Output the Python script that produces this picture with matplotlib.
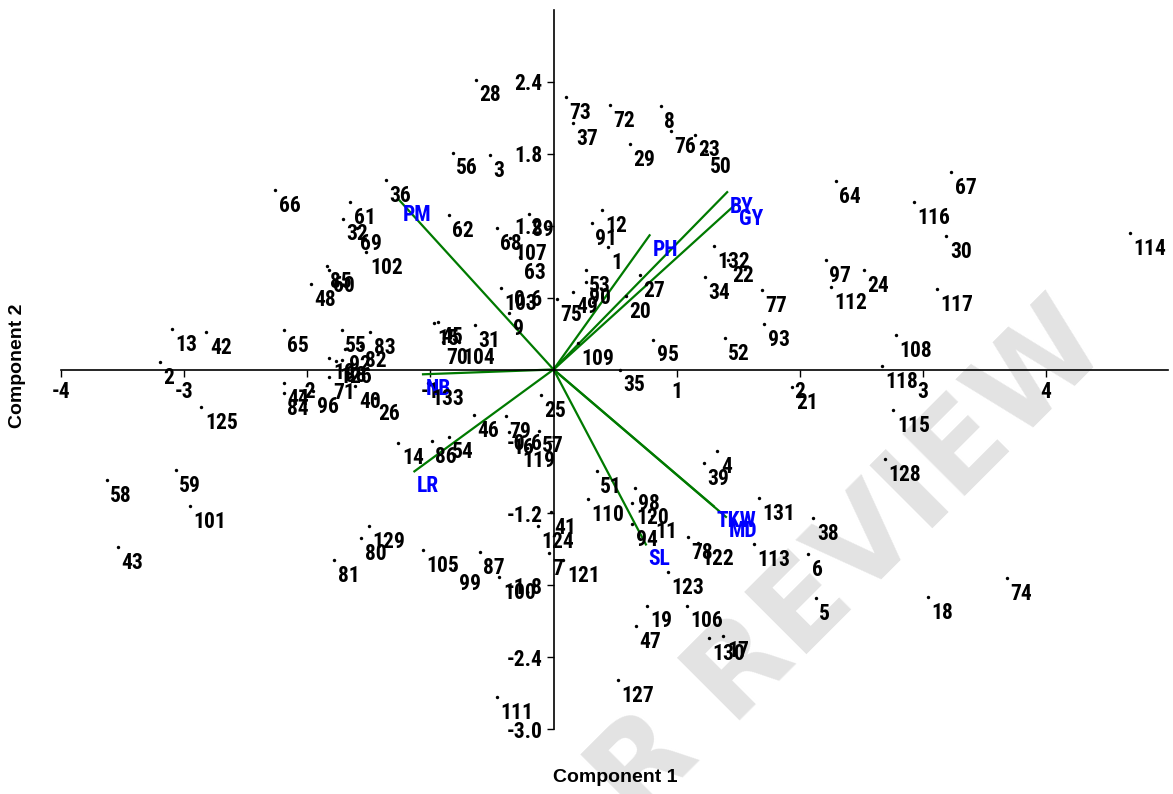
import matplotlib
matplotlib.use("Agg")
import matplotlib.pyplot as plt
from matplotlib import font_manager

# genotype scores (component 1, component 2)
labels = ["1", "2", "3", "4", "5", "6", "7", "8", "9", "11", "12", "13", "14", "15", "16",
          "17", "18", "19", "20", "21", "22", "23", "24", "25", "26", "27", "28", "29", "30",
          "31", "32", "133", "34", "35", "36", "37", "38", "39", "40", "41", "42", "43", "44",
          "45", "46", "47", "48", "49", "50", "51", "52", "53", "54", "55", "56", "57", "58",
          "59", "60", "61", "62", "63", "64", "65", "66", "67", "68", "69", "70", "71", "72",
          "73", "74", "75", "76", "77", "78", "79", "80", "81", "83", "84", "85", "86", "87",
          "90", "91", "93", "94", "95", "96", "97", "98", "99", "100", "101", "102", "103",
          "104", "105", "106", "107", "108", "109", "110", "111", "112", "113", "114", "115",
          "116", "117", "118", "119", "120", "121", "122", "123", "124", "125", "127", "128",
          "129", "130", "131", "132", "89", "10", "126", "88", "92", "82"]
pc1 = [0.44, -3.20, -0.52, 1.33, 2.13, 2.07, -0.04, 0.87, -0.36, 0.80, 0.39, -3.10, -1.26,
       -0.97, -0.36, 1.38, 3.04, 0.76, 0.59, 1.94, 1.42, 1.15, 2.52, -0.10, -1.45, 0.70,
       -0.63, 0.62, 3.19, -0.64, -1.71, -1.02, 1.23, 0.54, -1.36, 0.16, 2.11, 1.22, -1.61,
       -0.02, -2.82, -3.54, -2.19, -0.94, -0.65, 0.67, -1.97, 0.16, 1.24, 0.35, 1.39, 0.26,
       -0.85, -1.72, -0.82, -0.12, -3.63, -3.07, -1.82, -1.65, -0.85, -0.27, 2.29, -2.19,
       -2.26, 3.23, -0.46, -1.60, -0.90, -1.82, 0.46, 0.10, 3.68, 0.03, 0.95, 1.69, 1.09,
       -0.39, -1.56, -1.78, -1.49, -2.19, -1.84, -0.99, -0.60, 0.26, 0.31, 1.71, 0.64, 0.81,
       -1.95, 2.21, 0.66, -0.80, -0.44, -2.95, -1.52, -0.43, -0.77, -1.06, 1.08, -0.35, 2.78,
       0.20, 0.28, -0.46, 2.25, 1.63, 4.68, 2.76, 2.93, 3.11, 2.67, -0.28, 0.64, 0.08, 1.17,
       0.93, -0.13, -2.86, 0.52, 2.69, -1.50, 1.26, 1.67, 1.30, -0.20, -1.82, -1.77, -1.72,
       -1.69, -1.56]
pc2 = [1.02, 0.06, 1.79, -0.68, -1.91, -1.54, -1.53, 2.20, 0.47, -1.22, 1.33, 0.34, -0.61,
       0.39, -0.52, -2.22, -1.90, -1.97, 0.61, -0.15, 0.91, 1.96, 0.83, -0.21, -0.24, 0.79,
       2.42, 1.88, 1.11, 0.37, 1.26, -0.11, 0.77, 0.00, 1.58, 2.06, -1.24, -0.78, -0.14,
       -1.19, 0.31, -1.48, -0.11, 0.40, -0.38, -2.14, 0.71, 0.65, 1.82, -0.85, 0.26, 0.83,
       -0.56, 0.33, 1.81, -0.51, -0.92, -0.84, 0.83, 1.40, 1.29, 0.94, 1.57, 0.33, 1.50,
       1.65, 1.18, 1.18, 0.23, -0.06, 2.21, 2.27, -1.74, 0.59, 1.99, 0.66, -1.40, -0.39,
       -1.41, -1.59, 0.31, -0.20, 0.86, -0.60, -1.52, 0.73, 1.22, 0.38, -1.29, 0.25, -0.18,
       0.91, -0.99, -1.66, -1.73, -1.14, 0.98, 0.68, 0.23, -1.51, -1.97, 1.10, 0.29, 0.22,
       -1.08, -2.73, 0.69, -1.46, 1.14, -0.34, 1.40, 0.67, 0.03, -0.63, -1.11, -1.59, -1.45,
       -1.69, -1.31, -0.31, -2.59, -0.75, -1.31, -2.24, -1.07, 1.03, 1.30, 0.10, 0.07, 0.08,
       0.17, 0.20]

# variable loadings
var_names = ["PM", "BY", "GY", "PH", "NB", "LR", "TKW", "MD", "SL"]
var_pc1 = [-1.25, 1.41, 1.48, 0.78, -1.06, -1.13, 1.30, 1.40, 0.75]
var_pc2 = [1.41, 1.48, 1.38, 1.12, -0.04, -0.85, -1.14, -1.23, -1.46]

xticks = [-4, -3, -2, -1, 1, 2, 3, 4]
yticks = [-3.0, -2.4, -1.8, -1.2, -0.6, 0.6, 1.2, 1.8, 2.4]

names = {f.name for f in font_manager.fontManager.ttflist}
narrow = None
for cand in ["Liberation Sans Narrow", "Arial Narrow", "Roboto Condensed"]:
    if cand in names:
        narrow = cand
        break
if narrow:
    lab_font, lab_size = narrow, 15.5
else:
    lab_font, lab_size = "Liberation Sans", 13.5

fig = plt.figure(figsize=(11.73, 7.94), dpi=100)
ax = fig.add_axes([61 / 1173, 1 - 729 / 794, 1107 / 1173, 719 / 794])
ax.set_xlim(-4, 4.99)
ax.set_ylim(-3.0, 3.0)

for s in ["top", "right"]:
    ax.spines[s].set_visible(False)
ax.spines["left"].set_position(("data", 0))
ax.spines["bottom"].set_position(("data", 0))
for s in ["left", "bottom"]:
    ax.spines[s].set_linewidth(1.2)

ax.set_xticks(xticks)
ax.set_xticklabels([str(t) for t in xticks])
ax.set_yticks(yticks)
ax.set_yticklabels(["%.1f" % t for t in yticks])
ax.tick_params(direction="out", length=5, width=1, pad=3)
for t in ax.get_xticklabels() + ax.get_yticklabels():
    t.set_fontfamily(lab_font)
    t.set_fontsize(lab_size)
    t.set_fontweight("bold")

# watermark
ax.text(0.725, 0.29, "R REVIEW", transform=fig.transFigure, rotation=45,
        fontsize=88, fontweight="bold", family="DejaVu Sans", color="#e3e3e3",
        ha="center", va="center", zorder=0, clip_on=False)

for x, y in zip(var_pc1, var_pc2):
    ax.plot([0, x], [0, y], color="#007a00", lw=1.6, zorder=2)
for name, x, y in zip(var_names, var_pc1, var_pc2):
    ax.annotate(name, (x, y), xytext=(2, -2.5), textcoords="offset points",
                ha="left", va="top", color="#0000ff", fontsize=lab_size,
                fontweight="bold", family=lab_font, zorder=4)

ax.scatter(pc1, pc2, s=6, color="black", zorder=3, linewidths=0)
for lab, x, y in zip(labels, pc1, pc2):
    ax.annotate(lab, (x, y), xytext=(2.5, -3.5), textcoords="offset points",
                ha="left", va="top", fontsize=lab_size, fontweight="bold",
                family=lab_font, zorder=4)

fig.text(615 / 1173, 1 - 777 / 794, "Component 1", ha="center", va="center",
         fontsize=14, fontweight="bold", family="Liberation Sans")
fig.text(18 / 1173, 1 - 366 / 794, "Component 2", ha="center", va="center",
         rotation=90, fontsize=14, fontweight="bold", family="Liberation Sans")

fig.savefig("out.png", dpi=100)
